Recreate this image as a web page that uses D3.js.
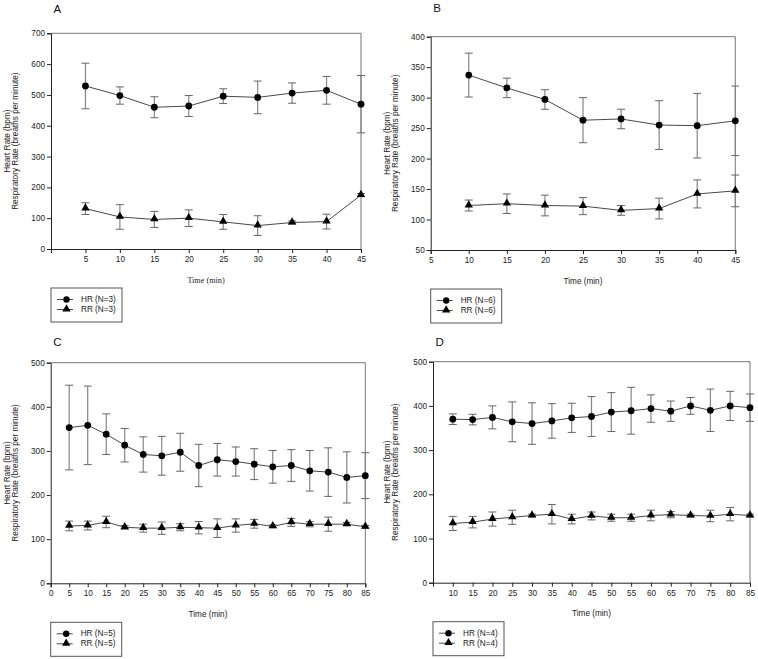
<!DOCTYPE html>
<html>
<head>
<meta charset="utf-8">
<script src="https://cdn.jsdelivr.net/npm/d3@7"></script>
<style>
  html, body { margin: 0; padding: 0; background: #fff; }
  svg { display: block; font-family: "Liberation Sans", Arial, sans-serif; }
</style>
</head>
<body>
<svg id="chart" width="758" height="659"></svg>
<script>
// ---------------- DATA ----------------
const timeA = [5, 10, 15, 20, 25, 30, 35, 40, 45];
const hrA = [529, 498, 460, 464, 496, 492, 506, 515, 470];
const hrErrA = [74, 28, 34, 34, 24, 53, 33, 45, 93];
const rrA = [131, 104, 96, 100, 88, 76, 86, 89, 175];
const rrErrA = [19, 40, 26, 27, 24, 32, 5, 24, 5];
const xTicksA = [5, 10, 15, 20, 25, 30, 35, 40, 45];
const yTicksA = [0, 100, 200, 300, 400, 500, 600, 700];
const legendA = ["HR (N=3)", "RR (N=3)"];

const timeB = [10, 15, 20, 25, 30, 35, 40, 45];
const hrB = [337, 316, 297, 263, 265, 255, 254, 262];
const hrErrB = [36, 16, 16, 37, 16, 40, 53, 57];
const rrB = [123, 126, 123, 122, 115, 118, 142, 147];
const rrErrB = [9, 16, 17, 14, 8, 17, 23, 26];
const xTicksB = [5, 10, 15, 20, 25, 30, 35, 40, 45];
const yTicksB = [50, 100, 150, 200, 250, 300, 350, 400];
const legendB = ["HR (N=6)", "RR (N=6)"];

const timeC = [5, 10, 15, 20, 25, 30, 35, 40, 45, 50, 55, 60, 65, 70, 75, 80, 85];
const hrC = [353, 358, 338, 313, 292, 289, 297, 267, 280, 276, 270, 264, 267, 255, 252, 240, 244];
const hrErrC = [96, 89, 46, 38, 40, 44, 43, 48, 37, 33, 35, 37, 36, 46, 55, 58, 52];
const rrC = [130, 131, 139, 127, 125, 125, 127, 126, 125, 131, 135, 129, 138, 134, 134, 134, 128];
const rrErrC = [11, 10, 13, 4, 9, 14, 8, 14, 21, 15, 10, 3, 9, 6, 16, 4, 3];
const xTicksC = [0, 5, 10, 15, 20, 25, 30, 35, 40, 45, 50, 55, 60, 65, 70, 75, 80, 85];
const yTicksC = [0, 100, 200, 300, 400, 500];
const legendC = ["HR (N=5)", "RR (N=5)"];

const timeD = [10, 15, 20, 25, 30, 35, 40, 45, 50, 55, 60, 65, 70, 75, 80, 85];
const hrD = [370, 369, 374, 364, 360, 366, 373, 376, 386, 389, 394, 388, 400, 390, 400, 396];
const hrErrD = [12, 12, 26, 45, 47, 39, 33, 45, 44, 53, 31, 23, 19, 48, 33, 31];
const rrD = [134, 137, 144, 148, 152, 155, 144, 151, 147, 147, 152, 154, 152, 151, 155, 152];
const rrErrD = [16, 13, 16, 16, 3, 22, 11, 9, 8, 8, 12, 7, 3, 13, 15, 3];
const xTicksD = [10, 15, 20, 25, 30, 35, 40, 45, 50, 55, 60, 65, 70, 75, 80, 85];
const yTicksD = [0, 100, 200, 300, 400, 500];
const legendD = ["HR (N=4)", "RR (N=4)"];

const panelLetters = ["A", "B", "C", "D"];
const xLabel = "Time (min)";
const yLabel1 = "Heart Rate (bpm)";
const yLabel2 = "Respiratory Rate (breaths per minute)";

// ---------------- LAYOUT ----------------
const panels = [
  { letter: panelLetters[0], L: 51, R: 361, T: 33.3, B: 249, xDom: [0, 45], yDom: [0, 700],
    t: timeA, hr: hrA, hrE: hrErrA, rr: rrA, rrE: rrErrA, xt: xTicksA, yt: yTicksA, leg: legendA,
    letterY: 13, ylx1: 7.5, ylx2: 15.3, serifX: true },
  { letter: panelLetters[1], L: 430.7, R: 735.3, T: 36.7, B: 250, xDom: [5, 45], yDom: [50, 400],
    t: timeB, hr: hrB, hrE: hrErrB, rr: rrB, rrE: rrErrB, xt: xTicksB, yt: yTicksB, leg: legendB,
    letterY: 12, ylx1: 387.5, ylx2: 395.3, serifX: false },
  { letter: panelLetters[2], L: 50.7, R: 365.3, T: 362.7, B: 583.3, xDom: [0, 85], yDom: [0, 500],
    t: timeC, hr: hrC, hrE: hrErrC, rr: rrC, rrE: rrErrC, xt: xTicksC, yt: yTicksC, leg: legendC,
    letterY: 346, ylx1: 7.5, ylx2: 15.3, serifX: false },
  { letter: panelLetters[3], L: 433, R: 750, T: 361.7, B: 582.7, xDom: [5, 85], yDom: [0, 500],
    t: timeD, hr: hrD, hrE: hrErrD, rr: rrD, rrE: rrErrD, xt: xTicksD, yt: yTicksD, leg: legendD,
    letterY: 346, ylx1: 387.5, ylx2: 395.3, serifX: false }
];

const svg = d3.select("#chart");
const errColor = "#858585";
const lineColor = "#333";
const frameColor = "#777";
const fs = 8.2;

const tri = d3.symbol().type(d3.symbolTriangle).size(30)();

function drawPanel(p) {
  const x = d3.scaleLinear().domain(p.xDom).range([p.L, p.R]);
  const y = d3.scaleLinear().domain(p.yDom).range([p.B, p.T]);
  const g = svg.append("g");

  // frame (top/right)
  g.append("path")
    .attr("d", `M${p.L},${p.T}H${p.R}V${p.B}`)
    .attr("fill", "none").attr("stroke", frameColor).attr("stroke-width", 1);

  // axes
  const yAxis = d3.axisLeft(y).tickValues(p.yt).tickSize(4).tickPadding(2).tickFormat(d3.format("d"));
  const gy = g.append("g").attr("transform", `translate(${p.L},0)`).call(yAxis);
  const xAxis = d3.axisBottom(x).tickValues(p.xt).tickSize(4).tickPadding(3).tickFormat(d3.format("d"));
  const gx = g.append("g").attr("transform", `translate(0,${p.B})`).call(xAxis);
  [gx, gy].forEach(a => {
    a.selectAll("text").attr("font-size", fs).attr("fill", "#222").attr("font-family", "Liberation Sans, Arial, sans-serif");
    a.select(".domain").attr("stroke", "#222");
    a.selectAll(".tick line").attr("stroke", "#222");
  });

  // error bars
  function errBars(vals, errs) {
    const eg = g.append("g").attr("stroke", errColor).attr("stroke-width", 1.2).attr("fill", "none");
    p.t.forEach((t, i) => {
      const cx = x(t), y1 = y(vals[i] + errs[i]), y2 = y(vals[i] - errs[i]);
      eg.append("line").attr("x1", cx).attr("x2", cx).attr("y1", y1).attr("y2", y2);
      eg.append("line").attr("x1", cx - 4).attr("x2", cx + 4).attr("y1", y1).attr("y2", y1).attr("stroke", "#666").attr("stroke-width", 1);
      eg.append("line").attr("x1", cx - 4).attr("x2", cx + 4).attr("y1", y2).attr("y2", y2).attr("stroke", "#666").attr("stroke-width", 1);
    });
  }
  errBars(p.hr, p.hrE);
  errBars(p.rr, p.rrE);

  // lines
  const line = d3.line().x((d, i) => x(p.t[i])).y(d => y(d));
  g.append("path").datum(p.hr).attr("d", line).attr("fill", "none").attr("stroke", lineColor).attr("stroke-width", 0.9);
  g.append("path").datum(p.rr).attr("d", line).attr("fill", "none").attr("stroke", lineColor).attr("stroke-width", 0.9);

  // markers
  g.selectAll(".hrpt").data(p.hr).enter().append("circle")
    .attr("cx", (d, i) => x(p.t[i])).attr("cy", d => y(d)).attr("r", 3.4).attr("fill", "#000");
  g.selectAll(".rrpt").data(p.rr).enter().append("path")
    .attr("d", tri).attr("transform", (d, i) => `translate(${x(p.t[i])},${y(d) - 0.5})`).attr("fill", "#000");

  // panel letter
  g.append("text").attr("x", p.L + 2.5).attr("y", p.letterY).text(p.letter)
    .attr("font-size", 11.5).attr("fill", "#111");

  // y label (two lines)
  const cy = (p.T + p.B) / 2;
  [[yLabel1, p.ylx1], [yLabel2, p.ylx2]].forEach(([txt, lx]) => {
    g.append("text").attr("transform", `translate(${lx},${cy}) rotate(-90)`)
      .attr("text-anchor", "middle").attr("dominant-baseline", "central")
      .attr("font-size", fs).attr("fill", "#222").text(txt);
  });

  // x label
  g.append("text").attr("x", (p.L + p.R) / 2).attr("y", p.B + 31)
    .attr("text-anchor", "middle").attr("dominant-baseline", "central")
    .attr("font-size", fs).attr("fill", "#222")
    .attr("font-family", p.serifX ? "Liberation Serif, Times New Roman, serif" : "Liberation Sans, Arial, sans-serif")
    .text(xLabel);

  // legend
  const lx = p.L, ly = p.B + 39, lw = 71, lh = 34;
  const lg = g.append("g");
  lg.append("rect").attr("x", lx).attr("y", ly).attr("width", lw).attr("height", lh)
    .attr("fill", "#fff").attr("stroke", "#555").attr("stroke-width", 1);
  [0, 1].forEach(k => {
    const ry = ly + 11.5 + k * 10;
    lg.append("line").attr("x1", lx + 6).attr("x2", lx + 22).attr("y1", ry).attr("y2", ry)
      .attr("stroke", lineColor).attr("stroke-width", 0.9);
    if (k === 0) lg.append("circle").attr("cx", lx + 15.5).attr("cy", ry).attr("r", 3.2).attr("fill", "#000");
    else lg.append("path").attr("d", tri).attr("transform", `translate(${lx + 15.5},${ry - 0.5})`).attr("fill", "#000");
    lg.append("text").attr("x", lx + 30).attr("y", ry).attr("dominant-baseline", "central")
      .attr("font-size", fs).attr("fill", "#222").text(p.leg[k]);
  });
}

panels.forEach(drawPanel);
</script>
</body>
</html>
